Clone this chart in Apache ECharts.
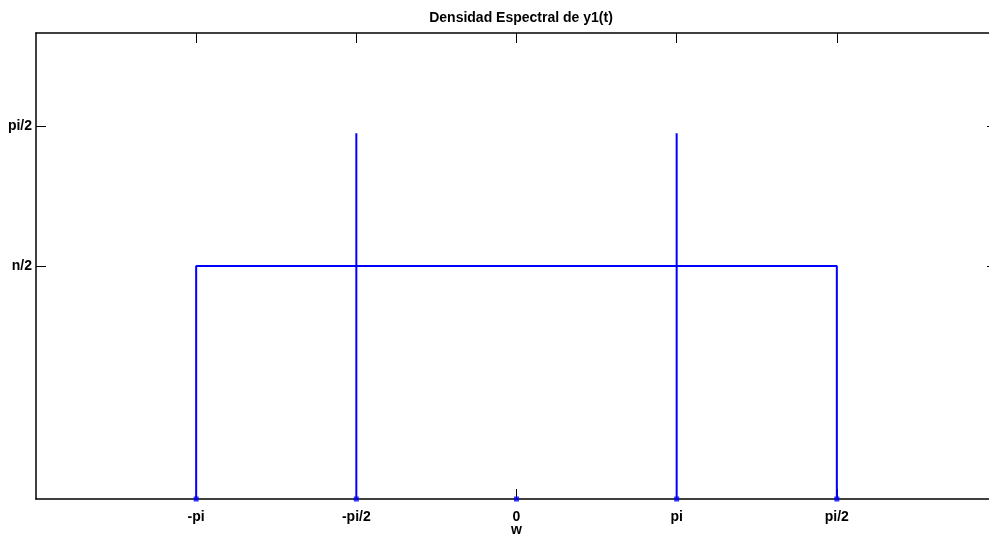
<!DOCTYPE html>
<html>
<head>
<meta charset="utf-8">
<script src="https://cdn.jsdelivr.net/npm/echarts@6/dist/echarts.min.js"></script>
<style>
  html, body { margin: 0; padding: 0; background: #fff; }
  #chart { width: 989px; height: 534px; }
</style>
</head>
<body>
<div id="chart"></div>
<script>
// Frequency positions and their tick labels
const xTicks = [-2, -1, 0, 1, 2];
const xTickLabels = ['-pi', '-pi/2', '0', 'pi', 'pi/2'];
const yTicks = [1, 1.6];
const yTickLabels = ['n/2', 'pi/2'];

// Rectangular band of the spectral density
const bandX = [-2, -2, 2, 2];
const bandY = [0, 1, 1, 0];

// Impulses (stems) of the spectral density
const stemX = [-2, -1, 0, 1, 2];
const stemY = [0, 1.57, 0, 1.57, 0];

const BLUE = '#0000ff';
const FONT = '"Liberation Sans", Arial, sans-serif';
const FS = 14;

function labelFor(values, labels) {
  return v => {
    const i = values.findIndex(t => Math.abs(t - v) < 1e-9);
    return i >= 0 ? labels[i] : '';
  };
}

const series = [];
series.push({
  type: 'line',
  data: bandX.map((x, i) => [x, bandY[i]]),
  symbol: 'none',
  lineStyle: { color: BLUE, width: 2 },
  animation: false,
  z: 3
});
stemX.forEach((x, i) => {
  series.push({
    type: 'line',
    data: [[x, 0], [x, stemY[i]]],
    symbol: 'none',
    lineStyle: { color: BLUE, width: 2 },
    animation: false,
    z: 3
  });
});
series.push({
  type: 'scatter',
  data: stemX.map(x => [x, 0]),
  symbol: 'rect',
  symbolSize: 5,
  itemStyle: { color: BLUE },
  animation: false,
  z: 4
});

const tickStyle = { show: true, inside: true, length: 10, lineStyle: { color: '#000', width: 1 } };

const chart = echarts.init(document.getElementById('chart'), null, { renderer: 'canvas' });
chart.setOption({
  backgroundColor: '#fff',
  animation: false,
  title: {
    text: 'Densidad Espectral de y1(t)',
    left: 516,
    top: 6,
    textAlign: 'center',
    textStyle: { fontFamily: FONT, fontSize: FS, fontWeight: 'bold', color: '#000' }
  },
  grid: { left: 36, top: 33, width: 961, height: 466, containLabel: false, outerBoundsMode: 'none' },
  xAxis: [
    {
      type: 'value', min: -3, max: 3, position: 'bottom',
      name: 'w', nameLocation: 'middle', nameGap: 24, nameMoveOverlap: false,
      nameTextStyle: { fontFamily: FONT, fontSize: FS, fontWeight: 'bold', color: '#000' },
      axisLine: { show: true, onZero: false, lineStyle: { color: '#000', width: 1.5 } },
      axisTick: Object.assign({ customValues: xTicks }, tickStyle),
      axisLabel: {
        customValues: xTicks, formatter: labelFor(xTicks, xTickLabels), margin: 11,
        fontFamily: FONT, fontSize: FS, fontWeight: 'bold', color: '#000'
      },
      splitLine: { show: false }
    },
    {
      type: 'value', min: -3, max: 3, position: 'top',
      axisLine: { show: true, onZero: false, lineStyle: { color: '#000', width: 1.5 } },
      axisTick: Object.assign({ customValues: xTicks }, tickStyle),
      axisLabel: { show: false },
      splitLine: { show: false }
    }
  ],
  yAxis: [
    {
      type: 'value', min: 0, max: 2, position: 'left',
      axisLine: { show: true, onZero: false, lineStyle: { color: '#000', width: 1.5 } },
      axisTick: Object.assign({ customValues: yTicks }, tickStyle),
      axisLabel: {
        customValues: yTicks, formatter: labelFor(yTicks, yTickLabels), margin: 4,
        fontFamily: FONT, fontSize: FS, fontWeight: 'bold', color: '#000'
      },
      splitLine: { show: false }
    },
    {
      type: 'value', min: 0, max: 2, position: 'right',
      axisLine: { show: true, onZero: false, lineStyle: { color: '#000', width: 1.5 } },
      axisTick: Object.assign({ customValues: yTicks }, tickStyle),
      axisLabel: { show: false },
      splitLine: { show: false }
    }
  ],
  series: series
});
</script>
</body>
</html>
